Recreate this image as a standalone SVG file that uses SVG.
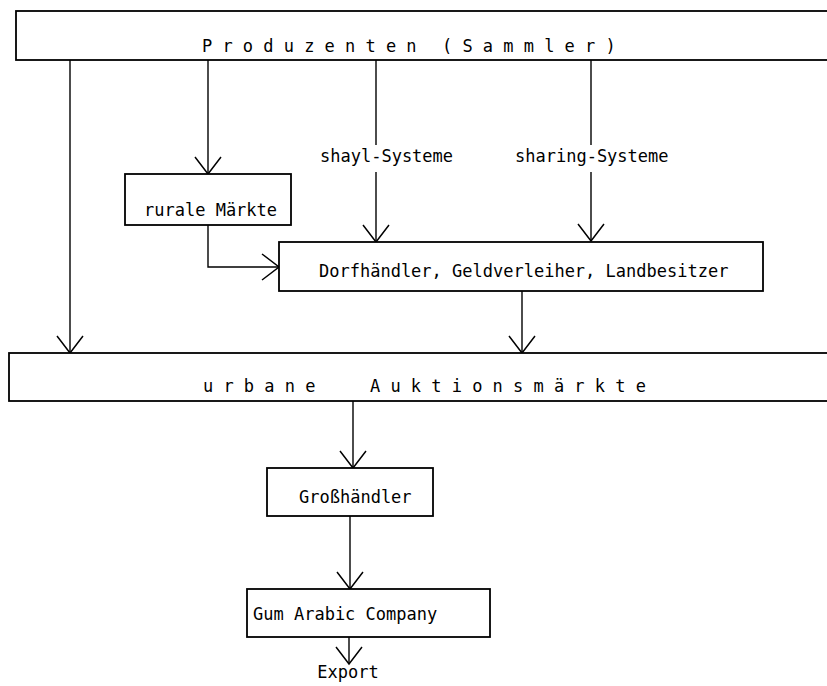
<svg xmlns="http://www.w3.org/2000/svg" width="827" height="686" viewBox="0 0 827 686">
<style>
.box{fill:#fff;stroke:#000;stroke-width:1.8}
.ln{fill:none;stroke:#000;stroke-width:1.4;marker-end:url(#arr)}
.ln0{fill:none;stroke:#000;stroke-width:1.4}
text{font-family:"DejaVu Sans Mono","Liberation Mono",monospace;font-size:17px;fill:#000}
.sp{letter-spacing:10.2px}
.c{text-anchor:middle}
</style>
<defs>
<marker id="arr" markerUnits="userSpaceOnUse" markerWidth="30" markerHeight="30" viewBox="-20 -15 22 30" refX="0" refY="0" orient="auto">
<path d="M-17,-13 L0,0 L-17,13" fill="none" stroke="#000" stroke-width="1.5"/>
</marker>
</defs>
<rect width="827" height="686" fill="#fff"/>
<g id="connectors">
<line class="ln" x1="70" y1="60" x2="70" y2="353"/>
<line class="ln" x1="208" y1="60" x2="208" y2="174"/>
<line class="ln0" x1="376" y1="60" x2="376" y2="145"/>
<line class="ln" x1="376" y1="172" x2="376" y2="242"/>
<line class="ln0" x1="591" y1="60" x2="591" y2="145"/>
<line class="ln" x1="591" y1="172" x2="591" y2="241"/>
<polyline class="ln" points="208,225 208,267 279,267"/>
<line class="ln" x1="522" y1="291" x2="522" y2="353"/>
<line class="ln" x1="353" y1="401" x2="353" y2="468"/>
<line class="ln" x1="350" y1="516" x2="350" y2="589"/>
<line class="ln" x1="349" y1="637" x2="349" y2="664"/>
<text x="320" y="162">shayl-Systeme</text>
<text x="515" y="162">sharing-Systeme</text>
</g>
<g id="produzenten">
<rect class="box" x="16" y="11" width="830" height="49"/>
<text class="sp" x="202" y="52">Produzenten</text>
<text class="sp" x="442" y="52">(Sammler)</text>
</g>
<g id="rurale">
<rect class="box" x="125" y="174" width="166" height="51"/>
<text x="144" y="216">rurale Märkte</text>
</g>
<g id="dorfhaendler">
<rect class="box" x="279" y="242" width="484" height="49"/>
<text x="319" y="277">Dorfhändler, Geldverleiher, Landbesitzer</text>
</g>
<g id="urbane">
<rect class="box" x="9" y="353" width="840" height="48"/>
<text class="sp" x="203" y="392">urbane</text>
<text class="sp" x="370" y="392">Auktionsmärkte</text>
</g>
<g id="grosshaendler">
<rect class="box" x="267" y="468" width="166" height="48"/>
<text x="299" y="503">Großhändler</text>
</g>
<g id="gum">
<rect class="box" x="247" y="589" width="243" height="48"/>
<text x="253" y="620">Gum Arabic Company</text>
</g>
<g id="export">
<text class="c" x="348" y="678">Export</text>
</g>
</svg>
